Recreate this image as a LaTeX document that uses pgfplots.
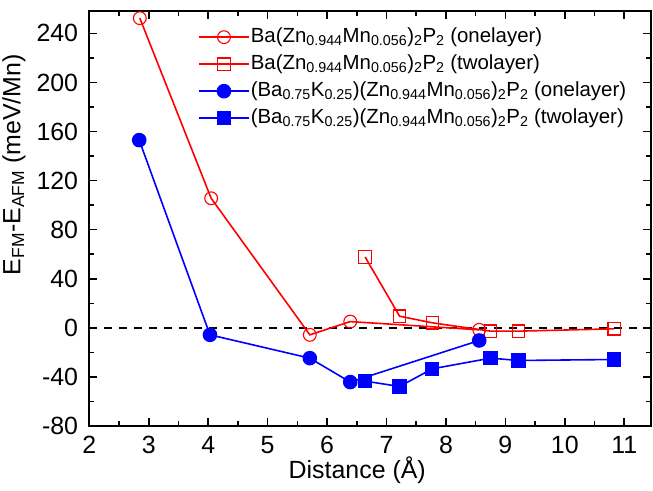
\documentclass[border=0pt]{standalone}
\usepackage{fontspec}
\setmainfont{Liberation Sans}
\usepackage{pgfplots}
\pgfplotsset{compat=1.18}

\definecolor{pred}{RGB}{255,0,0}
\definecolor{pblue}{RGB}{0,0,255}

\begin{document}
\begin{tikzpicture}
\begin{axis}[
  scale only axis, width=561.7bp, height=414.7bp,
  xmin=2, xmax=11.45, ymin=-80, ymax=258,
  xtick={2,3,...,11}, ytick={-80,-40,...,240},
  minor x tick num=1, minor y tick num=1,
  tick align=inside, xtick pos=both, ytick pos=both,
  xticklabel pos=bottom, yticklabel pos=left,
  major tick length=8bp, minor tick length=5bp,
  axis line style={line width=2.2bp}, tick style={line width=1.6bp, black},
  /pgf/number format/assume math mode=true,
  ticklabel style={font=\fontsize{25}{30}\selectfont, inner sep=0pt},
  yticklabel style={xshift=-11bp},
  xticklabel style={yshift=-10bp},
  xlabel={Distance (Å)},
  ylabel={E\textsubscript{FM}-E\textsubscript{AFM} (meV/Mn)},
  label style={font=\fontsize{25}{30}\selectfont},
  xlabel style={at={(axis description cs:0.477,-0.106)}, anchor=center},
  ylabel style={at={(axis description cs:-0.134,0.63)}, anchor=center},
  legend image code/.code={\draw[mark repeat=2,mark phase=2,#1] plot coordinates {(0bp,0bp) (25bp,0bp) (50bp,0bp)};},
  legend style={draw=none, fill=none, at={(axis description cs:0.1935,0.967)}, anchor=north west,
    font=\fontsize{20.5}{25}\selectfont, row sep=3bp, inner sep=0pt,
    nodes={inner sep=1bp, text height=16bp, text depth=6bp}},
  legend cell align=left,
]
\addplot[black, dashed, line width=1.8bp, dash pattern=on 8bp off 7bp, forget plot] coordinates {(2,0) (11.45,0)};
\addplot[pred, line width=1.6bp, mark=o, mark size=6.4bp, mark options={solid, fill=white, line width=1.1bp}]
  coordinates {(2.85,252.4) (4.05,105.6) (5.71,-5.7) (6.39,5.1) (8.56,-1.6)};
\addplot[pred, line width=1.6bp, mark=square, mark size=6.2bp, mark options={solid, fill=white, line width=1.1bp}]
  coordinates {(6.64,57.8) (7.22,9.5) (7.77,4.1) (8.75,-2.7) (9.22,-2.7) (10.83,-0.8)};
\addplot[pblue, line width=1.6bp, mark=*, mark size=6.5bp, mark options={solid, fill=pblue}]
  coordinates {(2.84,153) (4.03,-5.7) (5.71,-24.7) (6.39,-44.2) (8.56,-10.3)};
\addplot[pblue, line width=1.6bp, mark=square*, mark size=6.3bp, mark options={solid, fill=pblue}]
  coordinates {(6.64,-43.4) (7.22,-47.8) (7.77,-33.4) (8.75,-24.7) (9.22,-26.6) (10.83,-25.8)};
\legend{Ba(Zn\textsubscript{0.944}Mn\textsubscript{0.056})\textsubscript{2}P\textsubscript{2} (onelayer),
  Ba(Zn\textsubscript{0.944}Mn\textsubscript{0.056})\textsubscript{2}P\textsubscript{2} (twolayer),
  (Ba\textsubscript{0.75}K\textsubscript{0.25})(Zn\textsubscript{0.944}Mn\textsubscript{0.056})\textsubscript{2}P\textsubscript{2} (onelayer),
  (Ba\textsubscript{0.75}K\textsubscript{0.25})(Zn\textsubscript{0.944}Mn\textsubscript{0.056})\textsubscript{2}P\textsubscript{2} (twolayer)}
\end{axis}
\pgfresetboundingbox
\path (current axis.south west) ++(-89.3bp,-65bp) rectangle ++(653bp,491bp);
\end{tikzpicture}
\end{document}
